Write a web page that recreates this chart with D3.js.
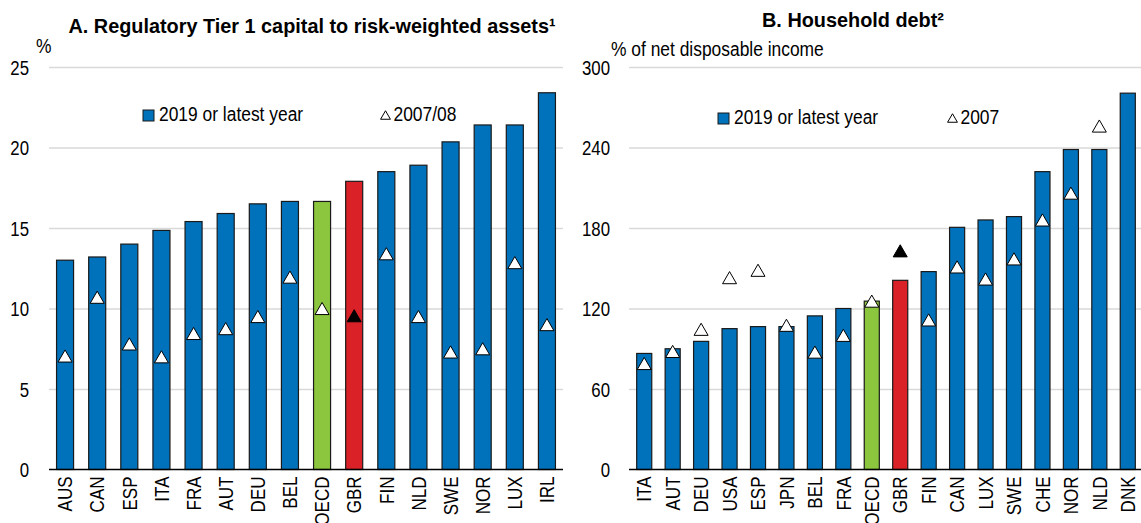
<!DOCTYPE html>
<html>
<head>
<meta charset="utf-8">
<script src="https://cdn.jsdelivr.net/npm/d3@7"></script>
<style>
  body { margin: 0; background: #fff; }
  svg text { font-family: "Liberation Sans", Arial, sans-serif; fill: #000; }
</style>
</head>
<body>
<div id="chart"></div>
<script>
// Panel A: Tier 1 capital to risk-weighted assets (%)
const catsA = ["AUS","CAN","ESP","ITA","FRA","AUT","DEU","BEL","OECD","GBR","FIN","NLD","SWE","NOR","LUX","IRL"];
const barsA = [13.0, 13.2, 14.0, 14.85, 15.4, 15.9, 16.5, 16.65, 16.65, 17.9, 18.5, 18.9, 20.35, 21.4, 21.4, 23.4];
const triA  = [7.05, 10.7, 7.8, 7.0, 8.45, 8.75, 9.5, 11.95, 10.0, 9.55, 13.4, 9.5, 7.3, 7.5, 12.85, 9.0];
const ticksA = [0, 5, 10, 15, 20, 25];

// Panel B: Household debt (% of net disposable income)
const catsB = ["ITA","AUT","DEU","USA","ESP","JPN","BEL","FRA","OECD","GBR","FIN","CAN","LUX","SWE","CHE","NOR","NLD","DNK"];
const barsB = [86.5, 90, 95.5, 105, 106.5, 106.5, 114.5, 120, 125.5, 141, 147.5, 180.5, 186, 188.5, 222, 238.5, 238.5, 280.5];
const triB  = [79, 88, 104.5, 143, 148.5, 107.5, 87.5, 100, 125.5, 163, 111.5, 151, 142, 157, 186, 206, 256, null];
const ticksB = [0, 60, 120, 180, 240, 300];

const W = 1141, H = 523;
const blue = "#0072bb", green = "#8cc63e", red = "#da2128", grid = "#d9d9d9";

const svg = d3.select("#chart").append("svg")
    .attr("width", W)
    .attr("height", H);

// the source uses a narrow face; squeeze the glyphs horizontally
function squeeze(sel, f) {
    sel.each(function() {
        const len = this.getComputedTextLength();
        d3.select(this)
            .attr("textLength", len * f)
            .attr("lengthAdjust", "spacingAndGlyphs");
    });
}

// triangle centred on its bounding box
const triType = {
    draw(ctx, size) {
        const s = Math.sqrt(size * 4 / Math.sqrt(3));
        const h = s * Math.sqrt(3) / 2;
        ctx.moveTo(0, -h / 2);
        ctx.lineTo(s / 2, h / 2);
        ctx.lineTo(-s / 2, h / 2);
        ctx.closePath();
    }
};

function barColor(c) {
    if (c === "OECD") return green;
    if (c === "GBR") return red;
    return blue;
}

function drawPanel(p) {
    const g = svg.append("g");

    const x = d3.scaleBand()
        .domain(p.cats)
        .range([p.left, p.right])
        .paddingInner(0.47)
        .paddingOuter(0.235);

    const y = d3.scaleLinear()
        .domain([0, p.max])
        .range([469.5, 67]);

    // gridlines + tick labels
    const yAxis = g.append("g")
        .attr("transform", `translate(${p.gridLeft},0)`)
        .call(d3.axisLeft(y).tickValues(p.ticks).tickSize(-(p.right - p.gridLeft)).tickPadding(p.tickPad));
    yAxis.select(".domain").remove();
    yAxis.selectAll(".tick line").attr("stroke", grid).attr("stroke-width", 1.5);
    yAxis.selectAll(".tick text").attr("font-size", 20).style("font-family", null).attr("dy", "0.36em");
    yAxis.selectAll(".tick").filter(d => d === 0).select("line").remove();
    squeeze(yAxis.selectAll(".tick text"), 0.84);

    // unit label
    g.append("text")
        .attr("x", p.unitX)
        .attr("y", p.unitY)
        .attr("font-size", 20)
        .text(p.unit)
        .call(squeeze, 0.87);

    // title
    g.append("text")
        .attr("x", p.titleX)
        .attr("y", p.titleY)
        .attr("text-anchor", "middle")
        .attr("font-size", 21)
        .attr("font-weight", "bold")
        .text(p.title)
        .call(squeeze, 0.945);

    // bars
    g.append("g")
        .selectAll("rect")
        .data(p.cats)
        .join("rect")
        .attr("x", c => x(c))
        .attr("y", (c, i) => y(p.bars[i]))
        .attr("width", x.bandwidth())
        .attr("height", (c, i) => y(0) - y(p.bars[i]))
        .attr("fill", c => barColor(c))
        .attr("stroke", "#1a1a1a")
        .attr("stroke-width", 1.2);

    // baseline
    g.append("line")
        .attr("x1", p.gridLeft)
        .attr("x2", p.right)
        .attr("y1", y(0))
        .attr("y2", y(0))
        .attr("stroke", "#000")
        .attr("stroke-width", 1.5);

    // x labels
    const xAxis = g.append("g")
        .attr("transform", `translate(0,${y(0)})`)
        .call(d3.axisBottom(x).tickSize(0).tickPadding(0));
    xAxis.select(".domain").remove();
    xAxis.selectAll(".tick text")
        .attr("font-size", 20)
        .style("font-family", null)
        .attr("text-anchor", "end")
        .attr("transform", "rotate(-90)")
        .attr("x", -7)
        .attr("y", 0)
        .attr("dy", "0.36em");
    squeeze(xAxis.selectAll(".tick text"), 0.85);

    // triangles
    const tri = d3.symbol().type(triType).size(85);
    const triData = p.cats.map((c, i) => ({ c, v: p.tri[i] })).filter(d => d.v != null);
    g.append("g")
        .selectAll("path")
        .data(triData)
        .join("path")
        .attr("d", tri)
        .attr("transform", d => `translate(${x(d.c) + x.bandwidth() / 2},${y(d.v)})`)
        .attr("fill", d => d.c === "GBR" ? "#000" : "#fff")
        .attr("stroke", "#000")
        .attr("stroke-width", 1);

    // legend
    const lg = g.append("g");
    lg.append("rect")
        .attr("x", p.legX)
        .attr("y", p.legY - 11)
        .attr("width", 11)
        .attr("height", 11)
        .attr("fill", blue)
        .attr("stroke", "#1a1a1a")
        .attr("stroke-width", 1);
    lg.append("text")
        .attr("x", p.legX + 16)
        .attr("y", p.legY)
        .attr("font-size", 20)
        .text(p.legBar)
        .call(squeeze, 0.87);
    lg.append("path")
        .attr("d", d3.symbol().type(triType).size(42))
        .attr("transform", `translate(${p.legTriX},${p.legY - 6})`)
        .attr("fill", "#fff")
        .attr("stroke", "#000")
        .attr("stroke-width", 1);
    lg.append("text")
        .attr("x", p.legTriX + 8)
        .attr("y", p.legY)
        .attr("font-size", 20)
        .text(p.legTri)
        .call(squeeze, 0.87);
}

drawPanel({
    cats: catsA, bars: barsA, tri: triA, ticks: ticksA, max: 25,
    left: 49, right: 563, gridLeft: 49, tickPad: 20,
    unit: "%", unitX: 36, unitY: 53,
    title: "A. Regulatory Tier 1 capital to risk-weighted assets\u00B9", titleX: 312, titleY: 33,
    legX: 143, legY: 121, legBar: "2019 or latest year", legTriX: 385.5, legTri: "2007/08"
});

drawPanel({
    cats: catsB, bars: barsB, tri: triB, ticks: ticksB, max: 300,
    left: 630, right: 1142, gridLeft: 629, tickPad: 19,
    unit: "% of net disposable income", unitX: 611, unitY: 56,
    title: "B. Household debt\u00B2", titleX: 853, titleY: 27,
    legX: 718, legY: 124, legBar: "2019 or latest year", legTriX: 952.5, legTri: "2007"
});
</script>
</body>
</html>
